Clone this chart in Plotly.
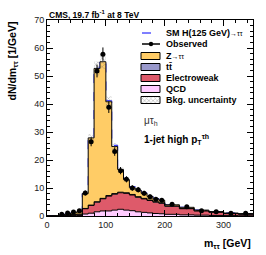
import plotly.graph_objects as go

# ---------------- data ----------------
edges = [0, 10, 20, 30, 40, 50, 60, 70, 80, 90, 100, 110, 120, 130, 140, 150, 160, 170, 180, 190, 200,
         225, 250, 275, 300, 325, 350]
qcd = [0, 0, 0.05, 0.1, 0.15, 0.2, 0.7, 1.0, 1.5, 1.8, 1.8, 2.1, 2.4, 2.1, 1.9, 1.5, 1.3, 1.1, 0.9, 0.8,
       0.6, 0.4, 0.3, 0.2, 0.15, 0.1]
ewk = [0, 0.03, 0.1, 0.23, 0.32, 0.45, 1.9, 2.8, 3.45, 4.35, 5.3, 5.7, 5.9, 6.0, 5.6, 5.2, 4.8, 4.45, 4.05, 3.75,
       2.9, 2.2, 1.5, 1.15, 0.7, 0.55]
ttbar = [0, 0, 0, 0.02, 0.03, 0.05, 0.1, 0.1, 0.15, 0.15, 0.2, 0.2, 0.2, 0.2, 0.2, 0.2, 0.2, 0.15, 0.15, 0.15,
         0.1, 0.1, 0.1, 0.05, 0.05, 0.05]
ztt = [0, 0.02, 0.15, 0.35, 0.6, 0.8, 5.3, 24.0, 47.6, 48.8, 33.5, 16.8, 8.1, 4.7, 2.4, 2.3, 1.8, 1.3, 1.0, 0.9,
       0.4, 0.4, 0.2, 0.2, 0.15, 0.15]
higgs = [0, 0, 0, 0, 0, 0, 0.02, 0.05, 0.1, 0.2, 0.35, 0.45, 0.5, 0.45, 0.35, 0.25, 0.15, 0.1, 0.08, 0.05,
         0.03, 0.02, 0.01, 0, 0, 0]
bkg_unc = [0, 0, 0.03, 0.05, 0.08, 0.1, 0.4, 1.3, 2.5, 2.6, 1.9, 1.2, 0.8, 0.6, 0.5, 0.45, 0.4, 0.35, 0.3, 0.3,
           0.2, 0.15, 0.1, 0.08, 0.06, 0.05]
observed = [None, None, 0.6, 1.1, 1.4, 1.9, 8.2, 26.5, 51.8, 57.8, 38.8, 23.0, 16.2, 13.1, 10.0, 9.4, 8.1, 6.9,
            6.0, 5.6, 4.2, 3.3, 1.9, 1.5, 1.0, 1.0]
obs_err = [None, None, 0.24, 0.33, 0.37, 0.44, 0.9, 1.6, 2.3, 2.4, 2.0, 1.5, 1.3, 1.1, 1.0, 0.97, 0.9, 0.83,
           0.77, 0.75, 0.41, 0.36, 0.28, 0.24, 0.2, 0.2]
x_ticks = [0, 100, 200, 300]
y_ticks = [0, 10, 20, 30, 40, 50, 60, 70]

COL_Z = "#FFCC66"
COL_TT = "#9999CC"
COL_EWK = "#DE5A6A"
COL_QCD = "#FFCCFF"

centers = [(edges[i] + edges[i + 1]) / 2 for i in range(len(edges) - 1)]


def step(vals):
    return list(vals) + [vals[-1]]


cum1 = qcd
cum2 = [a + b for a, b in zip(cum1, ewk)]
cum3 = [a + b for a, b in zip(cum2, ttbar)]
cum4 = [a + b for a, b in zip(cum3, ztt)]
unc_lo = [a - u for a, u in zip(cum4, bkg_unc)]
unc_hi = [a + u for a, u in zip(cum4, bkg_unc)]
sig = [a + h for a, h in zip(cum4, higgs)]

fig = go.Figure()
line_k = dict(color="black", width=1, shape="hv")
fig.add_trace(go.Scatter(x=edges, y=step(sig), mode="lines",
                         line=dict(color="#0000FF", width=1, dash="dash", shape="hv"), showlegend=False))
fig.add_trace(go.Scatter(x=edges, y=step(cum1), mode="lines", line=line_k, fill="tozeroy",
                         fillcolor=COL_QCD, showlegend=False))
fig.add_trace(go.Scatter(x=edges, y=step(cum2), mode="lines", line=line_k, fill="tonexty",
                         fillcolor=COL_EWK, showlegend=False))
fig.add_trace(go.Scatter(x=edges, y=step(cum3), mode="lines", line=line_k, fill="tonexty",
                         fillcolor=COL_TT, showlegend=False))
fig.add_trace(go.Scatter(x=edges, y=step(cum4), mode="lines", line=line_k, fill="tonexty",
                         fillcolor=COL_Z, showlegend=False))
fig.add_trace(go.Scatter(x=edges, y=step(unc_lo), mode="lines", line=dict(width=0, shape="hv"),
                         showlegend=False))
fig.add_trace(go.Scatter(x=edges, y=step(unc_hi), mode="lines", line=dict(width=0, shape="hv"),
                         fill="tonexty", fillcolor="rgba(0,0,0,0)",
                         fillpattern=dict(shape="x", fgcolor="#777777", size=3, solidity=0.4),
                         showlegend=False))
fig.add_trace(go.Scatter(x=centers, y=observed, mode="markers",
                         marker=dict(color="black", size=5),
                         error_y=dict(type="data", array=obs_err, color="black", thickness=1, width=0),
                         showlegend=False))

# ---------------- legend (manual) ----------------
L, R, T, B = 47, 253, 20, 216


def px(xp):
    return (xp - L) / (R - L)


def py(yp):
    return (B - yp) / (B - T)


fig.add_trace(go.Scatter(x=[px(141), px(160), px(160), px(141), px(141)],
                         y=[py(96.5), py(96.5), py(103.5), py(103.5), py(96.5)],
                         xaxis="x2", yaxis="y2", mode="lines", line=dict(color="black", width=1),
                         fill="toself", fillcolor="rgba(0,0,0,0)",
                         fillpattern=dict(shape="x", fgcolor="#777777", size=3, solidity=0.4),
                         showlegend=False, hoverinfo="skip"))

shapes = []
shapes.append(dict(type="line", xref="paper", yref="paper", x0=px(142), x1=px(160), y0=py(33), y1=py(33),
                   line=dict(color="#0000FF", width=1, dash="dash")))
shapes.append(dict(type="line", xref="paper", yref="paper", x0=px(142), x1=px(160), y0=py(44), y1=py(44),
                   line=dict(color="black", width=1.5)))
shapes.append(dict(type="circle", xref="paper", yref="paper", x0=px(148.8), x1=px(153.2),
                   y0=py(41.8), y1=py(46.2), fillcolor="black", line=dict(color="black", width=0)))
for yc, col in [(56, COL_Z), (67, COL_TT), (78, COL_EWK), (89, COL_QCD)]:
    shapes.append(dict(type="rect", xref="paper", yref="paper", x0=px(141), x1=px(160),
                       y0=py(yc - 3.5), y1=py(yc + 3.5), fillcolor=col, line=dict(color="black", width=1)))

annotations = []
leg_font = dict(family="Liberation Sans, Arial", size=9, color="black")
small = '<span style="font-size:7px">'
for yc, txt in [(33, "<b>SM H(125 GeV)</b>" + small + "→ττ</span>"),
                (44, "<b>Observed</b>"),
                (56, "<b>Z</b>" + small + "→ττ</span>"),
                (67, "<b>tt̄</b>"),
                (78, "<b>Electroweak</b>"),
                (89, "<b>QCD</b>"),
                (100, "<b>Bkg. uncertainty</b>")]:
    annotations.append(dict(x=px(164), y=py(yc), xref="paper", yref="paper", text=txt, showarrow=False,
                            xanchor="left", yanchor="middle", font=leg_font))

annotations.append(dict(x=0, y=py(14), xref="paper", yref="paper",
                        text="<b>CMS, 19.7 fb<sup>-1</sup> at 8 TeV</b>", showarrow=False,
                        xanchor="left", yanchor="middle",
                        font=dict(family="Liberation Sans, Arial", size=8.5, color="black")))
annotations.append(dict(x=px(142), y=py(121), xref="paper", yref="paper",
                        text="μτ<sub>h</sub>", showarrow=False, xanchor="left", yanchor="middle",
                        font=dict(family="Liberation Sans, Arial", size=10, color="#333333")))
annotations.append(dict(x=px(142), y=py(139), xref="paper", yref="paper",
                        text="<b>1-jet high p<sub>T</sub><sup>τh</sup></b>", showarrow=False,
                        xanchor="left", yanchor="middle",
                        font=dict(family="Liberation Sans, Arial", size=10, color="black")))
annotations.append(dict(x=px(12), y=1, xref="paper", yref="paper",
                        text="<b>dN/dm<sub>ττ</sub> [1/GeV]</b>", showarrow=False, textangle=-90,
                        xanchor="center", yanchor="top",
                        font=dict(family="Liberation Sans, Arial", size=10.5, color="black")))
annotations.append(dict(x=1, y=py(244), xref="paper", yref="paper",
                        text="<b>m<sub>ττ</sub> [GeV]</b>", showarrow=False,
                        xanchor="right", yanchor="middle",
                        font=dict(family="Liberation Sans, Arial", size=10.5, color="black")))

axis_common = dict(showline=True, linecolor="black", linewidth=1, mirror="allticks", ticks="inside",
                   ticklen=6, tickcolor="black", showgrid=False, zeroline=False,
                   tickfont=dict(family="Liberation Sans, Arial", size=9, color="#222222"))

fig.update_layout(
    width=266, height=255,
    margin=dict(l=L, r=266 - R, t=T, b=255 - B),
    plot_bgcolor="white", paper_bgcolor="white",
    showlegend=False,
    hovermode=False,
    xaxis=dict(range=[0, 350], tickvals=x_ticks, minor=dict(dtick=20, ticklen=3, ticks="inside",
                                                           tickcolor="black"), **axis_common),
    yaxis=dict(range=[0, 70], tickvals=y_ticks, minor=dict(dtick=2, ticklen=3, ticks="inside",
                                                          tickcolor="black"), **axis_common),
    xaxis2=dict(range=[0, 1], overlaying="x", visible=False),
    yaxis2=dict(range=[0, 1], overlaying="y", visible=False),
    shapes=shapes,
    annotations=annotations,
)

fig.write_html("out.html",
               config={"displayModeBar": False, "staticPlot": True},
               post_script="document.body.style.margin='0';document.body.style.overflow='hidden';")
